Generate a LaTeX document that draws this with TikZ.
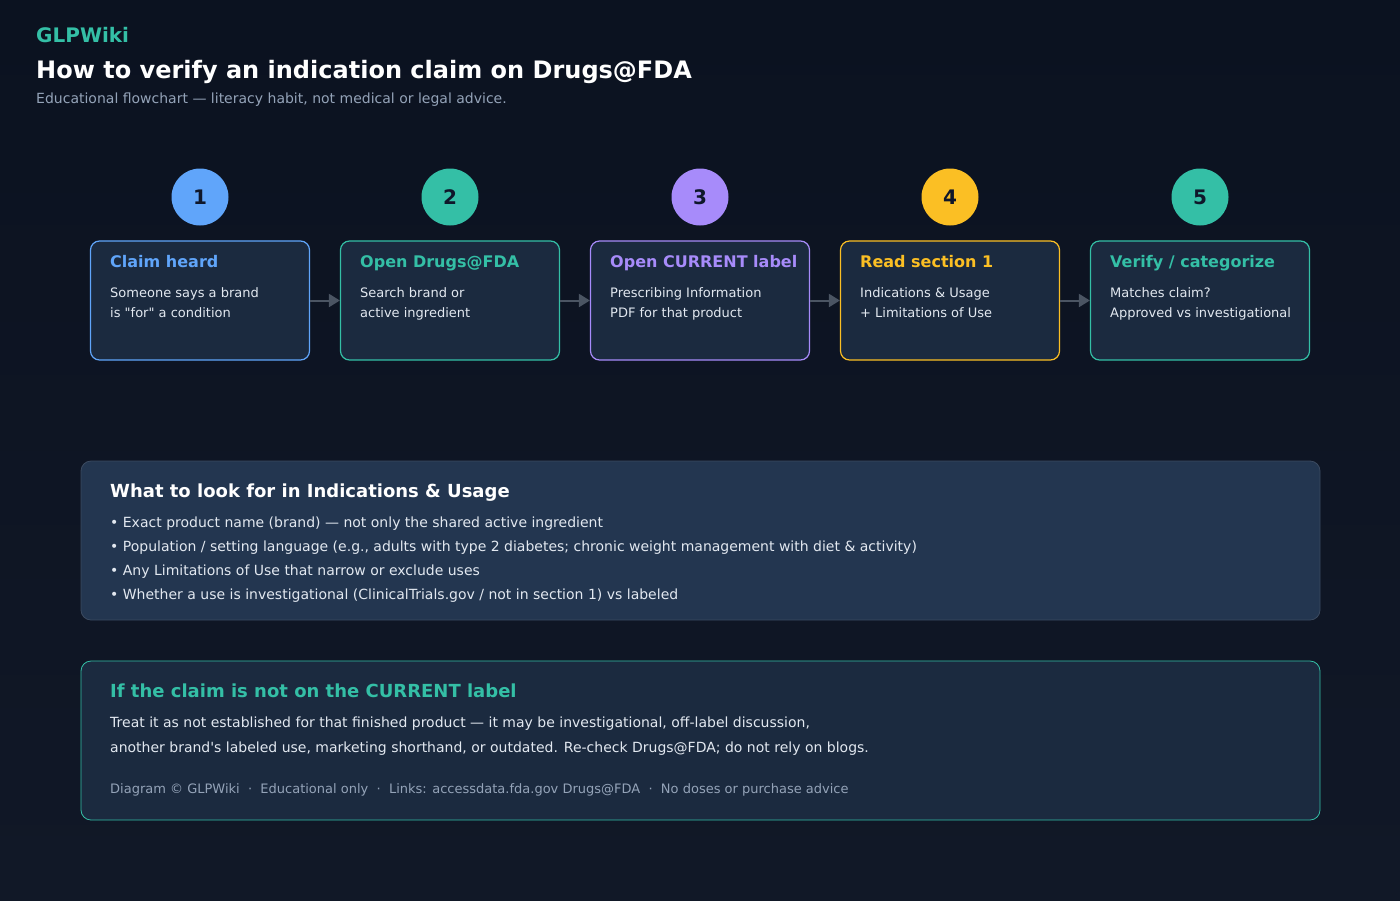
\documentclass[tikz,border=0pt]{standalone}
\usepackage{fontspec}
\setmainfont{DejaVu Sans}[Ligatures=TeXOff]
\definecolor{bgA}{HTML}{0B1220}
\definecolor{bgB}{HTML}{111827}
\definecolor{cardbg}{HTML}{1B2A3F}
\definecolor{panelbg}{HTML}{233650}
\definecolor{panelbd}{HTML}{3B4A60}
\definecolor{cblue}{HTML}{60A5FA}
\definecolor{cteal}{HTML}{34BFA6}
\definecolor{cpurple}{HTML}{A78BFA}
\definecolor{cyellow}{HTML}{FBBF24}
\definecolor{arrowc}{HTML}{4B5563}
\definecolor{bodyc}{HTML}{E2E8F0}
\definecolor{mutedc}{HTML}{94A3B8}
\definecolor{numc}{HTML}{0F172A}
\usetikzlibrary{arrows.meta}
\tikzset{
  card/.style={draw=#1,fill=cardbg,rounded corners=9pt,line width=1.2pt,minimum width=219pt,minimum height=119pt,inner sep=0pt},
  num/.style={circle,fill=#1,minimum size=57pt,inner sep=0pt,text=numc,font=\fontsize{20}{20}\selectfont\bfseries},
  ctitle/.style={anchor=base west,inner sep=0pt,text=#1,font=\fontsize{16}{16}\selectfont\bfseries},
  cbody/.style={anchor=north west,inner sep=0pt,text=bodyc,align=left,font=\fontsize{13}{20}\selectfont},
  conn/.style={draw=arrowc,line width=2pt,-{Triangle[length=11pt,width=13pt]}},
  txt/.style={anchor=base west,inner sep=0pt},
}
\begin{document}
\begin{tikzpicture}[x=1pt,y=-1pt]
\useasboundingbox (0,0) rectangle (1400,900);
\shade[top color=bgA,bottom color=bgB] (0,0) rectangle (1400,900);
\node[txt,text=cteal,font=\fontsize{20}{20}\selectfont\bfseries] (brand) at (36,42) {GLPWiki};
\node[txt,text=white,font=\fontsize{24}{24}\selectfont\bfseries] (title) at (36,78) {How to verify an indication claim on Drugs@FDA};
\node[txt,text=mutedc,font=\fontsize{14}{14}\selectfont] (sub) at (36,103) {Educational flowchart — literacy habit, not medical or legal advice.};
% cards
\foreach \i/\x/\c/\t/\ba/\bb in {
 1/200/cblue/{Claim heard}/{Someone says a brand}/{is "for" a condition},
 2/450/cteal/{Open Drugs@FDA}/{Search brand or}/{active ingredient},
 3/700/cpurple/{Open CURRENT label}/{Prescribing Information}/{PDF for that product},
 4/950/cyellow/{Read section 1}/{Indications \& Usage}/{+ Limitations of Use},
 5/1200/cteal/{Verify / categorize}/{Matches claim?}/{Approved vs investigational}}{
 \node[num=\c] (n\i) at (\x,197) {\i};
 \node[card=\c] (c\i) at (\x,300.5) {};
 \node[ctitle=\c] (t\i) at (\x-90,267) {\t};
 \node[cbody] (b\i) at (\x-90,287) {\ba\\\bb};
}
\foreach \a/\b in {1/2,2/3,3/4,4/5} \draw[conn] (c\a.east) -- (c\b.west);
% panel 1
\node[draw=panelbd,fill=panelbg,rounded corners=10pt,line width=0.8pt,minimum width=1239pt,minimum height=159pt,inner sep=0pt] (p1) at (700.5,540.5) {};
\node[txt,text=white,font=\fontsize{18}{18}\selectfont\bfseries] (p1h) at (110,497) {What to look for in Indications \& Usage};
\node[anchor=north west,inner sep=0pt,text=bodyc,align=left,font=\fontsize{14}{24}\selectfont] (p1b) at (110,517) {• Exact product name (brand) — not only the shared active ingredient\\
• Population / setting language (e.g., adults with type 2 diabetes; chronic weight management with diet \& activity)\\
• Any Limitations of Use that narrow or exclude uses\\
• Whether a use is investigational (ClinicalTrials.gov / not in section 1) vs labeled};
% panel 2
\node[draw=cteal,fill=cardbg,rounded corners=10pt,line width=0.8pt,minimum width=1239pt,minimum height=159pt,inner sep=0pt] (p2) at (700.5,740.5) {};
\node[txt,text=cteal,font=\fontsize{18}{18}\selectfont\bfseries] (p2h) at (110,697) {If the claim is not on the CURRENT label};
\node[anchor=north west,inner sep=0pt,text=bodyc,align=left,font=\fontsize{14}{25}\selectfont] (p2b) at (110,717) {Treat it as not established for that finished product — it may be investigational, off-label discussion,\\
another brand's labeled use, marketing shorthand, or outdated. Re-check Drugs@FDA; do not rely on blogs.};
\node[txt,text=mutedc,font=\fontsize{13}{13}\selectfont] (foot) at (110,793) {Diagram © GLPWiki \ · \ Educational only \ · \ Links: accessdata.fda.gov Drugs@FDA \ · \ No doses or purchase advice};
\end{tikzpicture}
\end{document}
